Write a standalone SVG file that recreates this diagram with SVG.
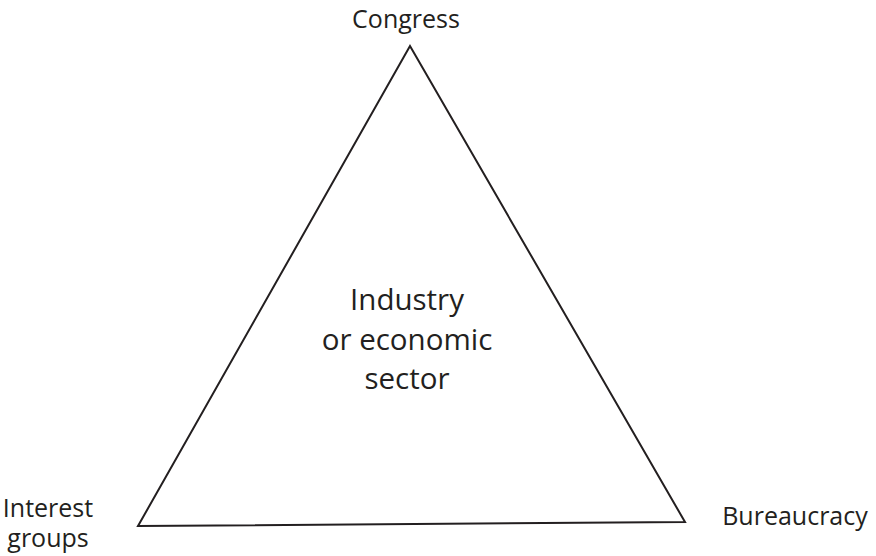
<svg xmlns="http://www.w3.org/2000/svg" width="876" height="556" viewBox="0 0 876 556">
<style>
text { font-family: "Open Sans", "Noto Sans", sans-serif; fill: #231f20; text-anchor: middle; }
.lbl { font-size: 25px; }
.ctr { font-size: 29.5px; }
.edge { fill: none; stroke: #231f20; stroke-width: 2; stroke-linejoin: miter; }
</style>
<rect width="876" height="556" fill="#ffffff"/>
<g id="connectors">
<polygon class="edge" points="410,46 138,526 685,522"/>
</g>
<g id="congress"><text class="lbl" x="406" y="28">Congress</text></g>
<g id="interest-groups"><text class="lbl" x="48" y="517">Interest</text><text class="lbl" x="48" y="547">groups</text></g>
<g id="bureaucracy"><text class="lbl" x="795" y="525">Bureaucracy</text></g>
<g id="industry"><text class="ctr" x="407" y="310">Industry</text><text class="ctr" x="407" y="350">or economic</text><text class="ctr" x="407" y="389">sector</text></g>
</svg>
